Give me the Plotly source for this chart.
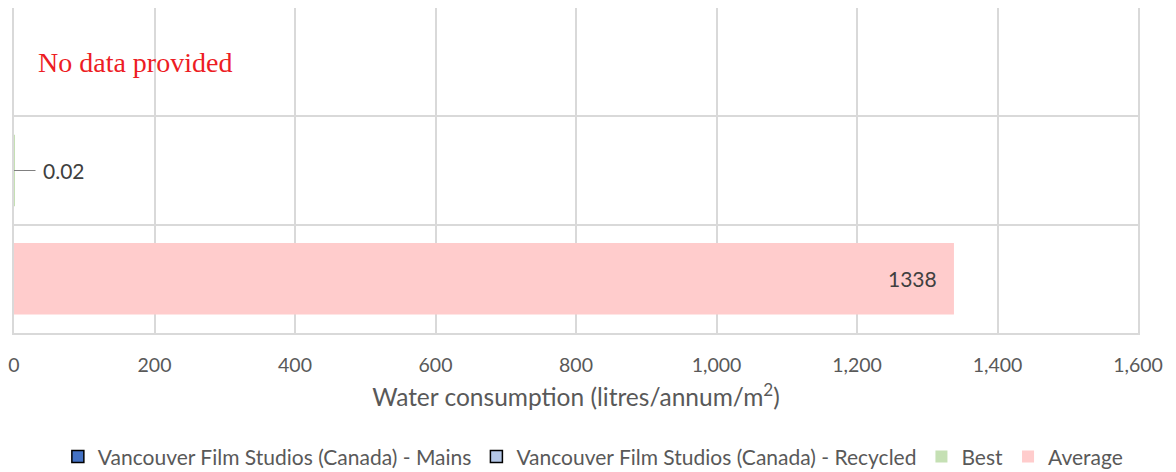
import plotly.graph_objects as go

categories = ["Average", "Best", "Vancouver Film Studios (Canada)"]
mains = [None, None, None]
recycled = [None, None, None]
best = [None, 0.02, None]
average = [1338, None, None]
x_ticks = [0, 200, 400, 600, 800, 1000, 1200, 1400, 1600]
x_tick_labels = ["0", "200", "400", "600", "800", "1,000", "1,200", "1,400", "1,600"]

FONT = "Lato"
GRAY = "#595959"

fig = go.Figure()
fig.add_trace(go.Bar(y=categories, x=mains, orientation="h",
                     name="Vancouver Film Studios (Canada) - Mains",
                     marker=dict(color="#4472C4", line=dict(color="#000000", width=1.5))))
fig.add_trace(go.Bar(y=categories, x=recycled, orientation="h",
                     name="Vancouver Film Studios (Canada) - Recycled",
                     marker=dict(color="#B4C7E7", line=dict(color="#000000", width=1.5))))
fig.add_trace(go.Bar(y=categories, x=best, orientation="h", name="Best",
                     marker=dict(color="#C5E0B4", line=dict(width=0))))
fig.add_trace(go.Bar(y=categories, x=average, orientation="h", name="Average",
                     marker=dict(color="#FFCCCC", line=dict(width=0))))

annotations = []
# Average label inside end
annotations.append(dict(x=average[0], y=categories[0], xref="x", yref="y",
                        text=str(average[0]), showarrow=False, xanchor="right",
                        xshift=-15, font=dict(family=FONT, size=21, color="#404040")))
# Best label with leader line
annotations.append(dict(x=best[1], y=categories[1], xref="x", yref="y",
                        text=f"{best[1]:.2f}", showarrow=True, arrowhead=0,
                        arrowwidth=1.2, arrowcolor="#808080", ax=50, ay=0,
                        standoff=0, startstandoff=6,
                        font=dict(family=FONT, size=21, color="#404040")))
# No data note
annotations.append(dict(x=0.02, y=categories[2], xref="paper", yref="y",
                        text="No data provided", showarrow=False, xanchor="left",
                        yshift=0,
                        font=dict(family="Liberation Serif", size=28, color="#ED1C24")))

# the page body adds an 8px offset, so the figure is sized to fit the window
fig.update_layout(
    width=1168, height=464,
    margin=dict(l=6, r=38, t=0, b=139, autoexpand=False),
    paper_bgcolor="white", plot_bgcolor="white",
    barmode="overlay", bargap=0.34,
    font=dict(family=FONT, size=20, color=GRAY),
    showlegend=True,
    legend=dict(orientation="h", x=0.515, xanchor="center", y=-0.381, yanchor="middle",
                font=dict(family=FONT, size=21, color=GRAY), itemwidth=30,
                tracegroupgap=0, traceorder="normal"),
    annotations=annotations,
    xaxis=dict(range=[0, 1600], tickvals=x_ticks, ticktext=x_tick_labels,
               showgrid=True, gridcolor="#D9D9D9", gridwidth=1.5, automargin=False,
               zeroline=False, showline=True, linecolor="#D9D9D9", linewidth=1.5,
               mirror=True, ticks="", ticklabelstandoff=14,
               tickfont=dict(family=FONT, size=19.5, color=GRAY),
               title=dict(text="Water consumption (litres/annum/m<sup>2</sup>)",
                          standoff=14, font=dict(family=FONT, size=24.5, color=GRAY))),
    yaxis=dict(type="category", categoryorder="array", categoryarray=categories,
               range=[-0.5, 2.5], showticklabels=False, tickson="boundaries",
               showgrid=True, gridcolor="#D9D9D9", gridwidth=1.5, ticks="",
               showline=True, linecolor="#D9D9D9", linewidth=1.5, mirror=True,
               zeroline=False, automargin=False),
)

fig.write_html("out.html")
